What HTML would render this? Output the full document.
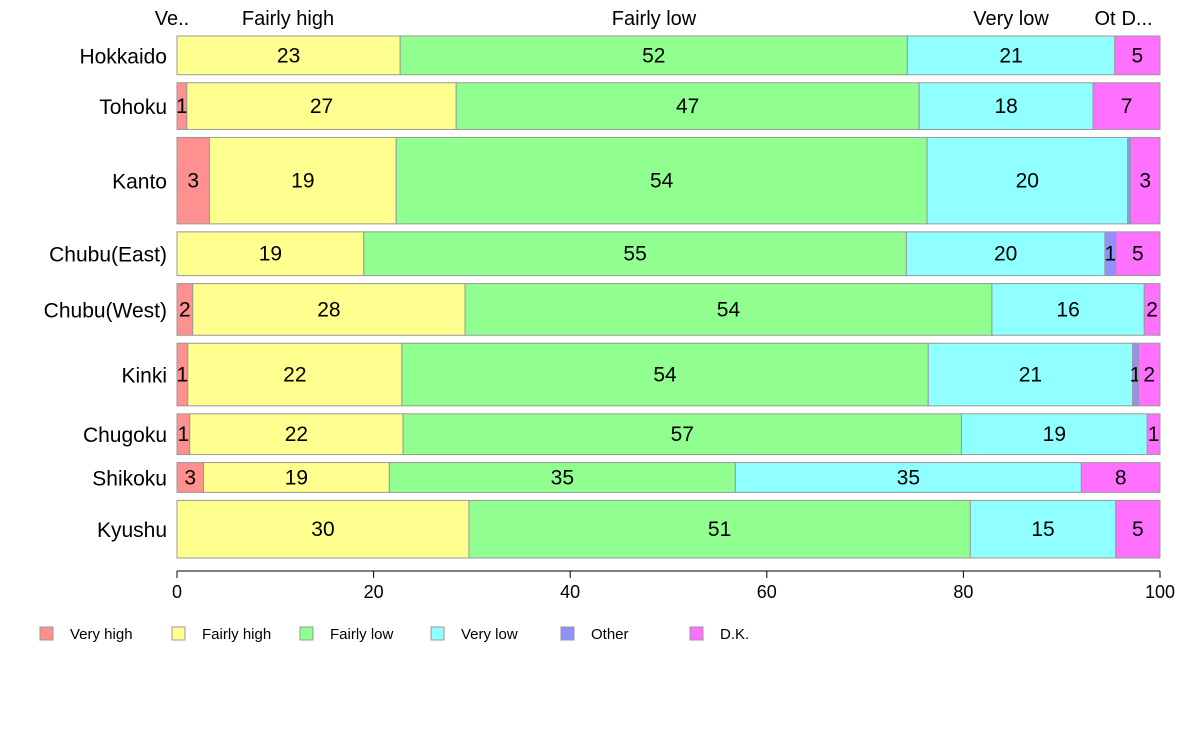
<!DOCTYPE html>
<html><head><meta charset="utf-8"><style>
body{margin:0;background:#fff;}
svg text{font-family:"Liberation Sans",Arial,sans-serif;}
</style></head><body>
<svg id="chart" width="1188" height="736" xmlns="http://www.w3.org/2000/svg"></svg>
<script>
const regions=["Hokkaido","Tohoku","Kanto","Chubu(East)","Chubu(West)","Kinki","Chugoku","Shikoku","Kyushu"];
const weights=[39,47,87,44,52,63,41,30,58];
const categories=["Very high","Fairly high","Fairly low","Very low","Other","D.K."];
const veryHigh=[0,1.0,3.3,0,1.6,1.1,1.3,2.7,0];
const fairlyHigh=[22.7,27.4,19.0,19.0,27.7,21.8,21.7,18.9,29.7];
const fairlyLow=[51.6,47.1,54.0,55.2,53.6,53.6,56.8,35.2,51.0];
const veryLow=[21.1,17.7,20.4,20.2,15.5,20.8,18.9,35.2,14.8];
const other=[0,0,0.3,1.1,0,0.6,0,0,0];
const dk=[4.6,6.8,3.0,4.5,1.6,2.2,1.3,8.0,4.5];
const xTicks=[0,20,40,60,80,100];
const topLabels=["Ve..","Fairly high","Fairly low","Very low","Ot","D..."];
const series=[veryHigh,fairlyHigh,fairlyLow,veryLow,other,dk];
const colors=["#ff9090","#ffff90","#90ff90","#90ffff","#9090ff","#ff70ff"];
const svg=document.getElementById('chart');
const NS="http://www.w3.org/2000/svg";
function mk(t,a,txt){const e=document.createElementNS(NS,t);for(const k in a)e.setAttribute(k,a[k]);if(txt!==undefined)e.textContent=txt;svg.appendChild(e);return e;}
const x0=177,x1=1160,yTop=36,yBot=558,gap=8;
const xs=v=>x0+(x1-x0)*v/100;
const totalW=weights.reduce((a,b)=>a+b,0);
const avail=yBot-yTop-gap*(regions.length-1);
let y=yTop;
regions.forEach((r,i)=>{
  const h=avail*weights[i]/totalW;
  let c=0;
  const vals=series.map(s=>s[i]);
  const sum=vals.reduce((a,b)=>a+b,0);
  vals.forEach((v,j)=>{
    const p=v*100/sum;
    if(p>0){
      const rc=mk('rect',{x:xs(c),y:y,width:xs(c+p)-xs(c),height:h,fill:colors[j],stroke:'#999','stroke-width':1});
      
      
      if(Math.round(v)>=1){
        const t=mk('text',{x:(xs(c)+xs(c+p))/2,y:y+h/2+7,'font-size':21,'text-anchor':'middle',fill:'#000'},String(Math.round(v)));
        
        
      }
    }
    c+=p;
  });
  const rl=mk('text',{x:167,y:y+h/2+8,'font-size':21,'text-anchor':'end'},r);
  
  
  y+=h+gap;
});
// top labels
const topX=[172,288,654,1011,1105,1137];
topLabels.forEach((t,i)=>{
  const e=mk('text',{x:topX[i],y:25,'font-size':20,'text-anchor':'middle'},t);
  
  
});
// x axis
const ax=mk('line',{x1:x0,x2:x1,y1:571,y2:571,stroke:'#000','stroke-width':1});


xTicks.forEach(v=>{
  const tk=mk('line',{x1:xs(v),x2:xs(v),y1:571,y2:578,stroke:'#000'});
  
  
  const tl=mk('text',{x:xs(v),y:598,'font-size':18,'text-anchor':'middle'},String(v));
  
  
});
// legend
const legX=[40,172,300,431,561,690];
categories.forEach((c,i)=>{
  const r=mk('rect',{x:legX[i],y:627,width:13,height:13,fill:colors[i],stroke:'#999'});
  
  
  const t=mk('text',{x:legX[i]+30,y:639,'font-size':15},c);
  
  
});
</script>
</body></html>
